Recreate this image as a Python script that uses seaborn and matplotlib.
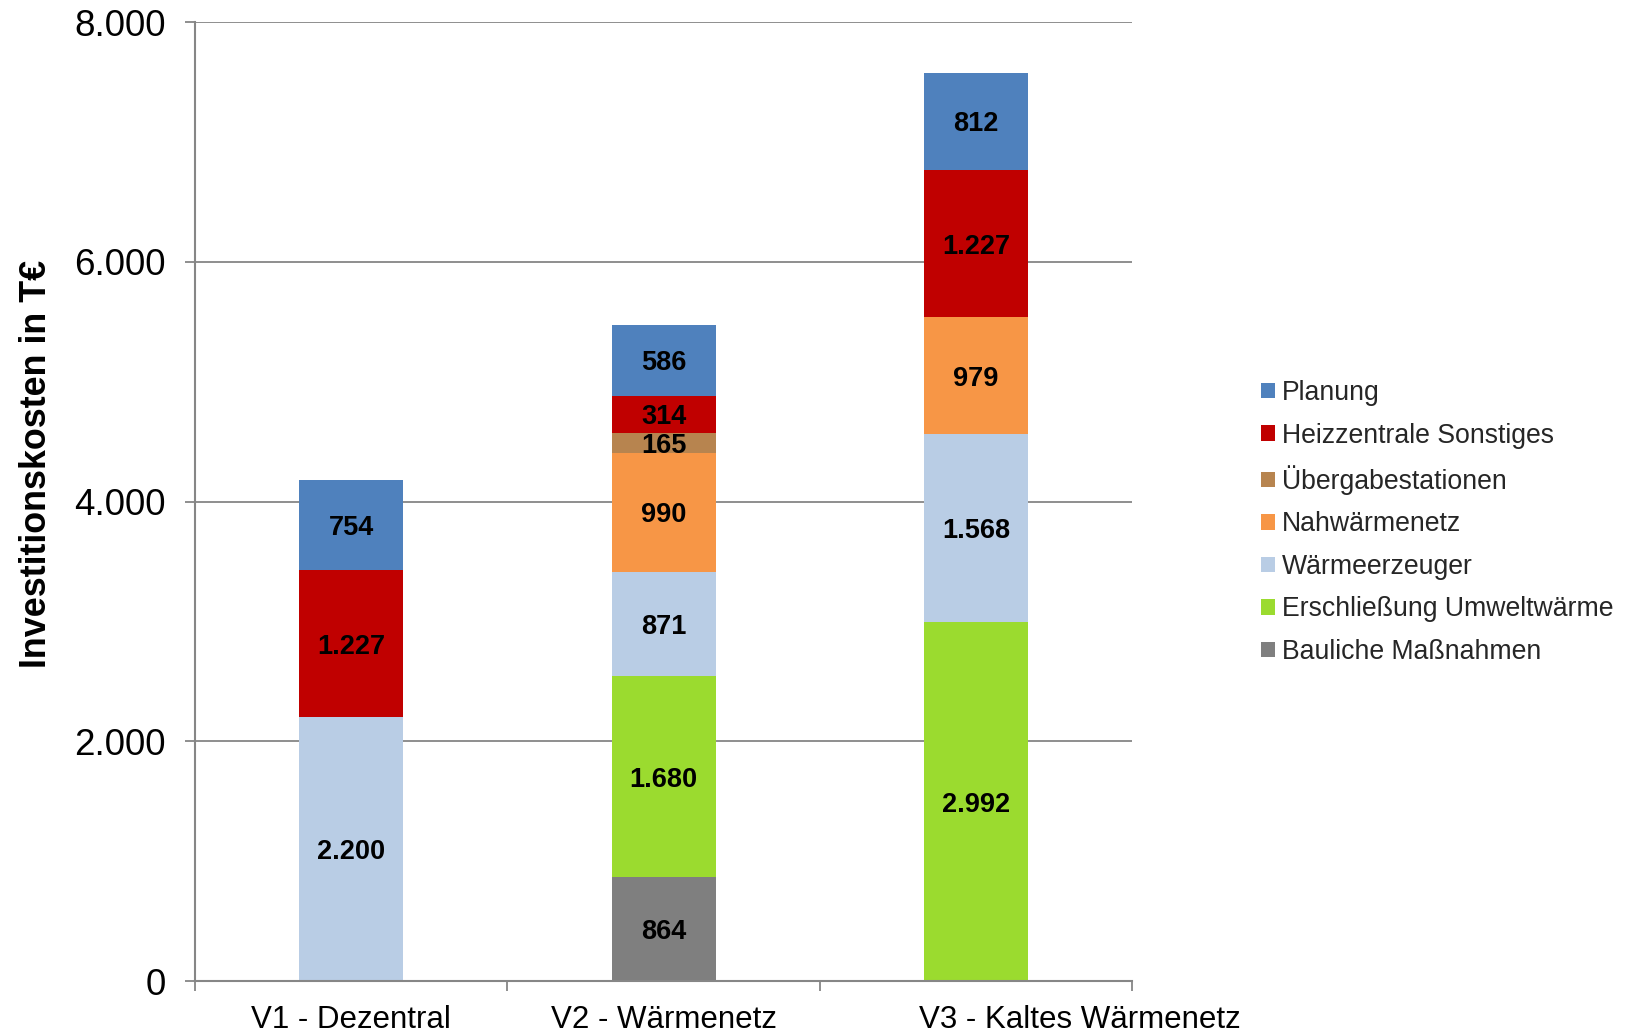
import matplotlib
matplotlib.use("Agg")
import matplotlib.pyplot as plt
import matplotlib.transforms as mtransforms
from matplotlib.patches import Patch
from matplotlib.ticker import FixedLocator
import numpy as np
import pandas as pd
import seaborn as sns

# Variants (x axis)
variants = ["V1 - Dezentral", "V2 - Wärmenetz", "V3 - Kaltes Wärmenetz"]

# Cost components in T€, listed from bottom of the stack to the top
components = [
    "Bauliche Maßnahmen",
    "Erschließung Umweltwärme",
    "Wärmeerzeuger",
    "Nahwärmenetz",
    "Übergabestationen",
    "Heizzentrale Sonstiges",
    "Planung",
]
bauliche = [0, 864, 0]
erschliessung = [0, 1680, 2992]
waermeerzeuger = [2200, 871, 1568]
nahwaermenetz = [0, 990, 979]
uebergabe = [0, 165, 0]
heizzentrale = [1227, 314, 1227]
planung = [754, 586, 812]

colors = ["#7F7F7F", "#9BDB2F", "#B9CDE5", "#F79646", "#B7844F", "#C00000", "#4F81BD"]

y_ticks = [0, 2000, 4000, 6000, 8000]
y_tick_labels = ["0", "2.000", "4.000", "6.000", "8.000"]

series = [bauliche, erschliessung, waermeerzeuger, nahwaermenetz,
          uebergabe, heizzentrale, planung]
df = pd.DataFrame({"Variante": variants})
for name, vals in zip(components, series):
    df[name] = vals

sns.set_theme(style="white")
plt.rcParams["font.family"] = ["Liberation Sans", "DejaVu Sans"]

fig = plt.figure(figsize=(16.36, 10.33), dpi=100)
ax = fig.add_axes([0.1192, 0.0503, 0.692 - 0.1192, 0.9787 - 0.0503])

def fmt(v):
    return f"{v:,.0f}".replace(",", ".")

# value labels sit slightly below the geometric centre of each segment
label_tf = mtransforms.offset_copy(ax.transData, fig=fig, x=0, y=-2.2, units="points")

bottom = np.zeros(len(variants))
for name, color in zip(components, colors):
    vals = df[name].to_numpy(dtype=float)
    sns.barplot(x=df["Variante"], y=vals, bottom=bottom, color=color,
                width=0.333, ax=ax, saturation=1, linewidth=0, errorbar=None)
    for i, v in enumerate(vals):
        if v > 0:
            ax.text(i, bottom[i] + v / 2, fmt(v), ha="center", va="center",
                    fontsize=19.5, fontweight="bold", color="black",
                    transform=label_tf)
    bottom += vals

ax.set_xlim(-0.5, 2.5)
ax.set_ylim(0, 8000)
ax.set_yticks(y_ticks)
ax.set_yticklabels(y_tick_labels)
ax.yaxis.grid(True, color="#868686", linewidth=1.3)
ax.set_axisbelow(True)

for s in ["top", "right"]:
    ax.spines[s].set_visible(False)
for s in ["left", "bottom"]:
    ax.spines[s].set_color("#868686")
    ax.spines[s].set_linewidth(1.5)

ax.xaxis.set_minor_locator(FixedLocator([-0.5, 0.5, 1.5, 2.5]))
ax.tick_params(axis="x", which="major", length=0, pad=17, labelsize=22.5, colors="black")
ax.tick_params(axis="x", which="minor", length=7.5, width=1.3, color="#868686", bottom=True)
ax.tick_params(axis="y", which="major", length=7.2, width=1.3, color="#868686",
               pad=14, labelsize=26.5, left=True, labelcolor="black")
ax.set_xlabel("")
ax.set_ylabel("Investitionskosten in T€", fontsize=25.8, fontweight="bold", color="black")
ax.yaxis.set_label_coords(-0.150, 0.539)

# the long last category label is pushed to the right of its bar
last = ax.get_xticklabels()[-1]
last.set_transform(last.get_transform() +
                   mtransforms.ScaledTranslation(104 / 100, 0, fig.dpi_scale_trans))

handles = [Patch(facecolor=c, edgecolor="none") for c in colors][::-1]
labels = components[::-1]
fig.legend(handles, labels, loc="center left", bbox_to_anchor=(0.7708, 0.4942),
           frameon=False, fontsize=19.2, handlelength=0.52, handleheight=0.5,
           handletextpad=0.26, labelspacing=0.62, borderpad=0, borderaxespad=0)

fig.savefig("out.png", dpi=100, facecolor="white")
